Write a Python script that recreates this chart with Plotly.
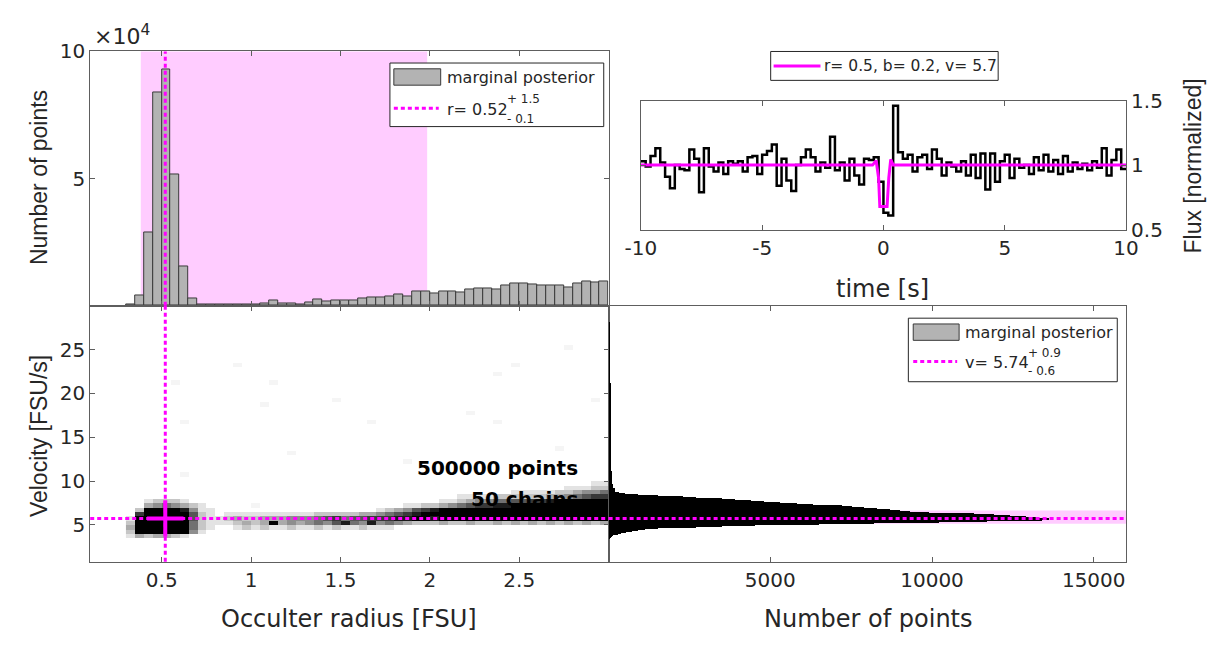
import plotly.graph_objects as go

W, H = 1224, 646
FONT_H = "DejaVu Sans, Verdana, sans-serif"      # horizontal text (reference is horizontally stretched)
FONT_V = "Liberation Sans, Arial, sans-serif"    # rotated text
TXT = "#262626"
AX = "#5e5e5e"
MAG = "#ff00ff"
PINK = "#ffccff"

# ---------------- data ----------------
# marginal posterior of occulter radius (bins of 0.05 starting at 0.30), counts in units of 1e4
r_bin_left = 0.30
r_bin_width = 0.05
r_counts_1e4 = [0.04, 0.40, 2.86, 8.40, 9.30, 5.15, 1.55, 0.28, 0.06, 0.04,
                0.04, 0.06, 0.04, 0.06, 0.06, 0.10, 0.21, 0.10, 0.10, 0.06,
                0.11, 0.24, 0.16, 0.19, 0.19, 0.19, 0.30, 0.34, 0.34, 0.38,
                0.44, 0.35, 0.57, 0.57, 0.49, 0.57, 0.57, 0.53, 0.62, 0.67,
                0.67, 0.63, 0.78, 0.86, 0.86, 0.83, 0.78, 0.78, 0.79, 0.72,
                0.88, 0.97, 0.91, 0.97]

r_best = 0.52
r_plus, r_minus = 1.5, 0.1
r_band = [0.383, 1.985]

v_best = 5.74
v_plus, v_minus = 0.9, 0.6

# marginal posterior of velocity (fine bins 0.1 wide from 3.5, then coarse tail bins 0.5 wide)
v_core_left = 3.5
v_core_width = 0.1
v_core_counts = [30, 45, 80, 120, 200, 270, 380, 520, 720, 900,
                 1100, 1500, 2000, 2700, 3500, 4500, 6500, 8200, 10200, 11700,
                 12800, 13400, 13600, 13300, 12900, 12400, 11900, 11300, 10600, 9900,
                 9300, 9000, 8700, 8300, 7900, 7500, 7200, 6800, 6300, 5800,
                 5300, 4800, 4400, 3900, 3500, 3100, 2700, 2300, 1500, 900,
                 500, 300]
v_tail_left = 8.7
v_tail_width = 0.5
v_tail_counts = [200, 130, 100, 90, 80, 75, 70, 65, 60, 60, 55, 55, 50, 50, 50,
                 45, 45, 45, 40, 40, 40, 40, 35, 35, 35, 30, 30, 30, 30, 25,
                 25, 25, 20, 20, 20, 15, 15, 10, 10]

# 2D posterior density (grey level 0-9), one string per radius bin, rows of velocity 0.5 wide from 3.0
v_row_bottom = 3.0
v_row_height = 0.5
heat_columns = [
    "01232100000000", "03999972000000", "02999999310000", "03999999420000",
    "03999999520000", "02999999420000", "01999998310000", "00455664200000",
    "00122221100000", "00011111000000", "00001100000000", "00001210000000",
    "00012310000000", "00023210000000", "00012210000000", "00023310000000",
    "00019310000000", "00013310000000", "00024410000000", "00013410000000",
    "00014410000000", "00025520000000", "00014620000000", "00026720000000",
    "00018520000000", "00015620000000", "00024630000000", "00018730000000",
    "00014741000000", "00015752000000", "00004863000000", "00003874100000",
    "00002986100000", "00002997200000", "00002898200000", "00003999310000",
    "00002999410000", "00002999521000", "00003999631000", "00002999741000",
    "00002999741000", "00003999852000", "00002999852000", "00003999962100",
    "00002999962100", "00003999972100", "00002999972100", "00003999983100",
    "00002999993200", "00003999994210", "00002999995310", "00003999996410",
    "00002999997421", "00003999997521",
]
faint_level = 0.35
faint_cells_r = [0.62, 0.92, 1.06, 1.15, 1.23, 1.46, 1.70, 2.20, 2.36, 2.36, 2.47, 2.70, 2.76, 0.64, 1.04, 0.57, 1.90, 2.90]
faint_cells_v = [16.7, 23.0, 18.7, 21.3, 13.1, 19.3, 16.7, 17.6, 22.0, 16.7, 23.2, 13.5, 25.2, 10.9, 7.2, 21.0, 12.0, 19.0]

# light curve (stairs, 0.2 s samples) and fitted model
t_start, t_step = -10.0, 0.2
flux = [1.03, 0.99, 1.07, 1.13, 1.02, 0.91, 0.82, 1.00, 0.97, 0.96,
        1.12, 1.05, 0.79, 1.13, 0.99, 0.95, 1.02, 0.93, 1.03, 1.01,
        1.03, 0.95, 1.06, 1.07, 0.93, 1.08, 1.11, 1.16, 0.84, 1.05,
        0.88, 0.80, 1.00, 1.06, 1.12, 1.06, 0.95, 1.02, 0.98, 1.22,
        0.96, 1.02, 0.88, 1.05, 0.92, 0.85, 1.05, 1.04, 1.06, 0.87,
        0.63, 0.61, 1.46, 1.10, 1.05, 1.08, 0.95, 1.06, 1.08, 0.97,
        1.12, 1.05, 0.92, 1.02, 0.99, 0.95, 1.03, 0.92, 1.08, 0.90,
        1.09, 0.81, 1.09, 0.87, 1.03, 1.08, 0.90, 1.05, 0.98, 1.00,
        0.93, 1.06, 0.96, 1.08, 0.95, 1.04, 0.93, 1.07, 0.95, 1.02,
        0.97, 1.01, 0.96, 1.03, 0.98, 1.13, 0.92, 1.04, 1.12, 0.97]
model_t = [-10, -0.45, -0.3, -0.2, -0.15, 0.15, 0.22, 0.3, 0.4, 10]
model_f = [1.0, 1.0, 1.035, 0.9, 0.68, 0.68, 0.9, 1.045, 1.0, 1.0]
model_label = "r= 0.5, b= 0.2, v= 5.7"

time_ticks = [-10, -5, 0, 5, 10]
time_tick_text = ["-10", "-5", "0", "5", "10"]

n_points_text = "500000 points"
n_chains_text = "50 chains"

# ---------------- derived geometry ----------------
def fx(p):
    return p / W

def fy(p):
    return 1 - p / H

X_L, X_M, X_R = 76, 607, 1137
Y_T, Y_M, Y_B = 41, 305, 571
INS_L, INS_T, INS_B = 640, 92, 226

fig = go.Figure()

# top-left histogram
r_centers = [r_bin_left + r_bin_width * (i + 0.5) for i in range(len(r_counts_1e4))]
fig.add_trace(go.Bar(x=r_centers, y=[c * 1e4 for c in r_counts_1e4], width=r_bin_width,
                     marker=dict(color="#b3b3b3", line=dict(color="#3a3a3a", width=1)),
                     xaxis="x", yaxis="y", hoverinfo="skip", showlegend=False))

# bottom-left density
n_rows = 54
heat_x = [r_bin_left + r_bin_width * (i + 0.5) for i in range(len(heat_columns))]
heat_y = [v_row_bottom + v_row_height * (k + 0.5) for k in range(n_rows)]
z = [[None] * len(heat_columns) for _ in range(n_rows)]
for i, col in enumerate(heat_columns):
    for k, ch in enumerate(col):
        if ch != "0":
            z[k][i] = int(ch)
for r, v in zip(faint_cells_r, faint_cells_v):
    i = int((r - r_bin_left) / r_bin_width)
    k = int((v - v_row_bottom) / v_row_height)
    if z[k][i] is None:
        z[k][i] = faint_level
fig.add_trace(go.Heatmap(x=heat_x, y=heat_y, z=z, zmin=0, zmax=9,
                         colorscale=[[0, "#ffffff"], [1, "#000000"]], showscale=False,
                         xaxis="x2", yaxis="y2", hoverinfo="skip"))
fig.add_trace(go.Scatter(x=[r_best], y=[v_best], mode="markers",
                         marker=dict(symbol="cross-thin", size=26, line=dict(width=4, color=MAG)),
                         xaxis="x2", yaxis="y2", hoverinfo="skip", showlegend=False))

# bottom-right histogram (horizontal)
v_core_centers = [v_core_left + v_core_width * (i + 0.5) for i in range(len(v_core_counts))]
v_tail_centers = [v_tail_left + v_tail_width * (i + 0.5) for i in range(len(v_tail_counts))]
fig.add_trace(go.Bar(y=v_core_centers + v_tail_centers, x=v_core_counts + v_tail_counts,
                     width=[v_core_width] * len(v_core_counts) + [v_tail_width] * len(v_tail_counts),
                     orientation="h", marker=dict(color="#000000", line=dict(width=0)),
                     xaxis="x3", yaxis="y3", hoverinfo="skip", showlegend=False))

# inset light curve
t_vals = [t_start + t_step * i for i in range(len(flux))] + [t_start + t_step * len(flux)]
fig.add_trace(go.Scatter(x=t_vals, y=flux + [flux[-1]], mode="lines",
                         line=dict(shape="hv", color="#000000", width=2.5),
                         xaxis="x4", yaxis="y4", hoverinfo="skip", showlegend=False))
fig.add_trace(go.Scatter(x=model_t, y=model_f, mode="lines", line=dict(color=MAG, width=3),
                         xaxis="x4", yaxis="y4", hoverinfo="skip", showlegend=False))

# ---------------- shapes ----------------
shapes = []
shapes.append(dict(type="rect", xref="x", yref="y domain", x0=r_band[0], x1=r_band[1], y0=0, y1=1,
                   fillcolor=PINK, line=dict(width=0), layer="below"))
shapes.append(dict(type="rect", xref="x3 domain", yref="y3", x0=0, x1=1, y0=v_best - v_minus, y1=v_best + v_plus,
                   fillcolor=PINK, line=dict(width=0), layer="below"))
DOT = "4px,3px"
for xr, yr in (("x", "y domain"), ("x2", "y2 domain")):
    shapes.append(dict(type="line", xref=xr, yref=yr, x0=r_best, x1=r_best, y0=0, y1=1,
                       line=dict(color=MAG, width=3, dash=DOT)))
for xr, yr in (("x2 domain", "y2"), ("x3 domain", "y3")):
    shapes.append(dict(type="line", xref=xr, yref=yr, x0=0, x1=1, y0=v_best, y1=v_best,
                       line=dict(color=MAG, width=3, dash=DOT)))

def prect(x0, y0, x1, y1, fill, lc="#262626", lw=1):
    return dict(type="rect", xref="paper", yref="paper", x0=fx(x0), x1=fx(x1), y0=fy(y1), y1=fy(y0),
                fillcolor=fill, line=dict(color=lc, width=lw), layer="above")

def pline(x0, y0, x1, y1, color, width, dash="solid"):
    return dict(type="line", xref="paper", yref="paper", x0=fx(x0), x1=fx(x1), y0=fy(y0), y1=fy(y1),
                line=dict(color=color, width=width, dash=dash), layer="above")

shapes.append(prect(383, 53, 602, 119, "white"))
shapes.append(prect(387, 59, 435, 76, "#b3b3b3", "#3a3a3a"))
shapes.append(pline(387, 100, 433, 100, MAG, 3, DOT))
shapes.append(prect(914, 318, 1128, 384, "white"))
shapes.append(prect(919, 324, 966, 341, "#b3b3b3", "#3a3a3a"))
shapes.append(pline(919, 363, 964, 363, MAG, 3, DOT))
shapes.append(prect(773, 41, 1006, 71, "white"))
shapes.append(pline(776, 56, 824, 56, MAG, 3))

# ---------------- annotations ----------------
anns = []

def ann(x, y, text, size, xanchor="center", yanchor="middle", angle=0, color=TXT, family=FONT_H):
    anns.append(dict(x=fx(x), y=fy(y), xref="paper", yref="paper", text=text, showarrow=False,
                     xanchor=xanchor, yanchor=yanchor, textangle=angle,
                     font=dict(family=family, size=size, color=color)))

ann(23, 172, "Number of points", 23, angle=-90, family=FONT_V)
ann(23, 440, "Velocity [FSU/s]", 23, angle=-90, family=FONT_V)
ann(341, 630, "Occulter radius [FSU]", 24)
ann(873, 630, "Number of points", 24)
ann(888, 288, "time [s]", 24)
ann(1206, 160, "Flux [normalized]", 23, angle=-90, family=FONT_V)
ann(78, 24, "\u00d710<sup>4</sup>", 22, xanchor="left")

ann(439, 68, "marginal posterior", 16, xanchor="left")
ann(439, 101, "r= 0.52", 16, xanchor="left")
ann(501, 90, "+ %.1f" % r_plus, 12, xanchor="left")
ann(501, 111, "- %.1f" % r_minus, 12, xanchor="left")
ann(970, 333, "marginal posterior", 16, xanchor="left")
ann(970, 364, "v= 5.74", 16, xanchor="left")
ann(1035, 354, "+ %.1f" % v_plus, 12, xanchor="left")
ann(1035, 373, "- %.1f" % v_minus, 12, xanchor="left")
ann(826, 56, model_label, 15.5, xanchor="left")

ann(578, 474, "<b>%s</b>" % n_points_text, 20, xanchor="right", color="#000000")
ann(578, 506, "<b>%s</b>" % n_chains_text, 20, xanchor="right", color="#000000")

# ---------------- axes ----------------
def axis(**kw):
    base = dict(showline=True, linecolor=AX, linewidth=1, mirror="ticks", ticks="inside", ticklen=5,
                tickcolor=AX, showgrid=False, zeroline=False,
                tickfont=dict(family=FONT_H, size=20, color=TXT))
    base.update(kw)
    return base

fig.update_layout(
    width=W, height=H, margin=dict(l=0, r=0, t=0, b=0),
    paper_bgcolor="white", plot_bgcolor="white", showlegend=False, bargap=0,
    xaxis=axis(domain=[fx(X_L), fx(X_M)], range=[0.1, 3.0], anchor="y",
               tickvals=[0.5, 1, 1.5, 2, 2.5], showticklabels=False),
    yaxis=axis(domain=[fy(Y_M), fy(Y_T)], range=[0, 1e5], anchor="x",
               tickvals=[5e4, 1e5], ticktext=["5", "10"]),
    xaxis2=axis(domain=[fx(X_L), fx(X_M)], range=[0.1, 3.0], anchor="y2",
                tickvals=[0.5, 1, 1.5, 2, 2.5], ticktext=["0.5", "1", "1.5", "2", "2.5"]),
    yaxis2=axis(domain=[fy(Y_B), fy(Y_M)], range=[0.8, 30], anchor="x2",
                tickvals=[5, 10, 15, 20, 25]),
    xaxis3=axis(domain=[fx(X_M), fx(X_R)], range=[0, 16000], anchor="y3",
                tickvals=[5000, 10000, 15000], ticktext=["5000", "10000", "15000"]),
    yaxis3=axis(domain=[fy(Y_B), fy(Y_M)], range=[0.8, 30], anchor="x3",
                ticks="", showticklabels=False, mirror=True),
    xaxis4=axis(domain=[fx(INS_L), fx(X_R)], range=[-10, 10], anchor="y4",
                tickvals=time_ticks, ticktext=time_tick_text),
    yaxis4=axis(domain=[fy(INS_B), fy(INS_T)], range=[0.5, 1.5], anchor="x4", side="right",
                tickvals=[0.5, 1, 1.5], ticktext=["0.5", "1", "1.5"]),
    shapes=shapes, annotations=anns,
)

fig.write_html("out.html", config={"displayModeBar": False},
               post_script="document.documentElement.style.overflow='hidden';"
                           "document.body.style.margin='0';document.body.style.overflow='hidden';")
